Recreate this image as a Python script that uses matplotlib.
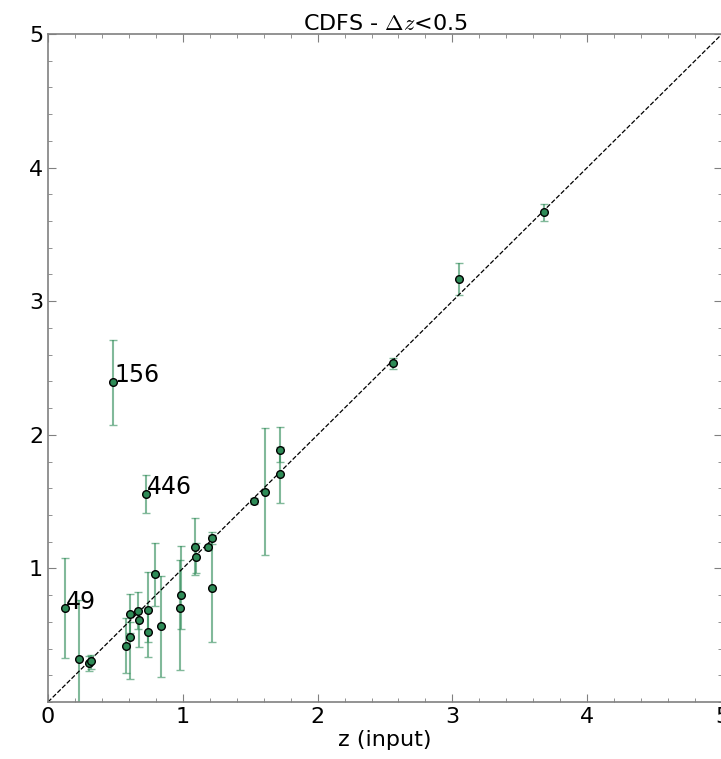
import numpy as np
import matplotlib
matplotlib.use("Agg")
import matplotlib.pyplot as plt
from matplotlib.ticker import MultipleLocator

plt.rcParams['mathtext.fontset'] = 'cm'

# input redshift, recovered redshift, and lower/upper error limits
z_in = [0.126, 0.232, 0.302, 0.317, 0.485, 0.579, 0.608, 0.608, 0.668, 0.675,
        0.727, 0.739, 0.739, 0.796, 0.840, 0.984, 0.979, 1.088, 1.096, 1.185,
        1.219, 1.214, 1.531, 1.607, 1.721, 1.721, 2.562, 3.051, 3.680]
z_out = [0.700, 0.320, 0.290, 0.309, 2.397, 0.420, 0.661, 0.485, 0.680, 0.612,
         1.558, 0.691, 0.524, 0.956, 0.570, 0.804, 0.707, 1.161, 1.084, 1.157,
         1.225, 0.852, 1.507, 1.573, 1.888, 1.705, 2.537, 3.166, 3.670]
z_lo = [0.327, -0.100, 0.232, 0.250, 2.077, 0.215, 0.520, 0.170, 0.550, 0.410,
        1.416, 0.450, 0.340, 0.720, 0.190, 0.550, 0.240, 0.950, 0.963, 1.140,
        1.180, 0.450, 1.480, 1.100, 1.800, 1.493, 2.494, 3.050, 3.600]
z_hi = [1.076, 0.764, 0.345, 0.350, 2.710, 0.627, 0.805, 0.600, 0.820, 0.700,
        1.700, 0.976, 0.700, 1.193, 0.944, 1.171, 1.060, 1.376, 1.190, 1.175,
        1.270, 1.250, 1.530, 2.052, 2.062, 1.910, 2.574, 3.286, 3.730]

# labelled outliers
label_ids = ['49', '156', '446']
label_idx = [0, 4, 10]

z_in = np.array(z_in)
z_out = np.array(z_out)
yerr = [z_out - np.array(z_lo), np.array(z_hi) - z_out]

fig = plt.figure(figsize=(7.21, 7.59), dpi=100)
ax = fig.add_axes([48 / 721, 57 / 759, 674 / 721, 668 / 759])

ax.errorbar(z_in, z_out, yerr=yerr, fmt='none', ecolor='seagreen', alpha=0.6,
            elinewidth=1.5, capsize=3, capthick=1)
ax.plot(z_in, z_out, 'o', color='seagreen', markeredgecolor='black',
        markeredgewidth=1, markersize=5.5, zorder=3)
ax.plot([0, 5], [0, 5], 'k--', linewidth=0.9)

for lab, i in zip(label_ids, label_idx):
    ax.text(z_in[i] + 0.01, z_out[i] - 0.04, lab, fontsize=17,
            ha='left', va='bottom')

ax.set_xlim(0, 5)
ax.set_ylim(0, 5)
ax.set_xticks([0, 1, 2, 3, 4, 5])
ax.set_yticks([1, 2, 3, 4, 5])
ax.xaxis.set_minor_locator(MultipleLocator(0.2))
ax.yaxis.set_minor_locator(MultipleLocator(0.2))
ax.tick_params(which='both', direction='in', top=True, right=True,
               color='#808080', labelsize=16)
ax.tick_params(which='major', length=6)
ax.tick_params(which='minor', length=3)
for s in ax.spines.values():
    s.set_color('#808080')
    s.set_linewidth(1.2)

ax.set_xlabel('z (input)', fontsize=16, labelpad=2)
ax.set_title(r'CDFS - $\Delta z$<0.5', fontsize=16, pad=2)

fig.savefig('out.png', dpi=100)
